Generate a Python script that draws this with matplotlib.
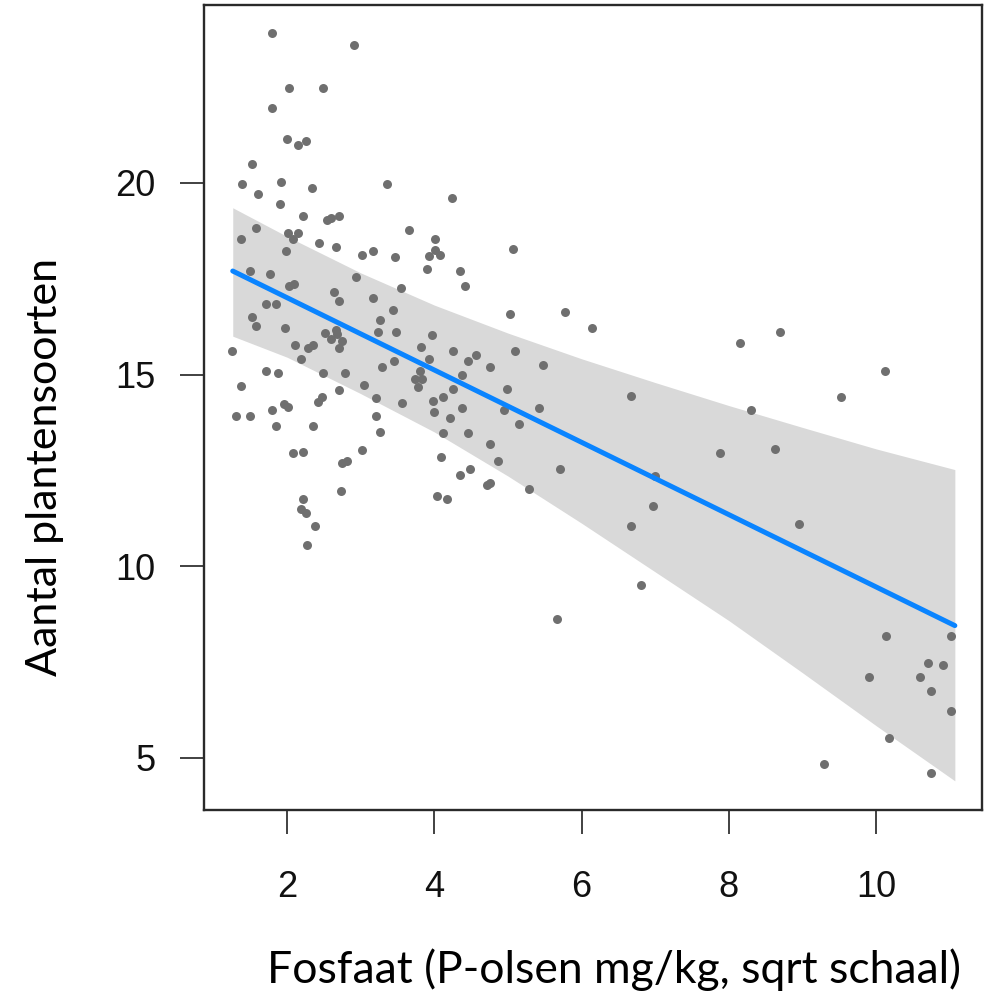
import numpy as np
import matplotlib
matplotlib.use('Agg')
import matplotlib.pyplot as plt

# scatter points (sqrt P-olsen, species count)
fosfaat = [1.79, 2.91, 2.03, 2.49, 1.79, 2.00, 2.14, 2.25, 1.52, 1.39, 1.92, 1.60, 2.33, 3.36,
           1.90, 2.22, 2.54, 2.59, 2.70, 1.58, 2.01, 2.14, 2.08, 1.37, 2.43, 2.66, 3.02, 3.17,
           3.47, 1.98, 1.50, 1.76, 2.93,
           2.03, 2.09, 2.64, 2.71, 3.17, 1.71, 1.85, 3.44, 1.52, 1.58, 1.97, 3.26, 3.23, 3.48,
           2.51, 2.60, 2.66, 2.68, 2.75, 2.71, 2.11, 2.28, 2.35, 1.25, 2.19, 3.45, 3.29, 1.71,
           1.87, 2.49, 2.78, 1.37, 3.04, 2.70, 2.47, 2.42, 3.20, 1.95, 2.01, 1.31, 1.49, 1.79,
           3.20, 1.85, 2.35, 3.26, 2.08, 2.22, 3.02, 2.75, 2.81, 2.73, 2.22, 2.19, 2.26, 2.38,
           2.27,
           4.24, 3.66, 4.01, 4.01, 4.07, 3.93, 5.07, 3.90, 4.35, 4.41, 3.55, 5.02, 5.77, 3.97,
           3.82, 4.25, 3.93, 4.46, 4.57, 5.10, 4.76, 5.47, 3.80, 3.74, 3.83, 3.77, 4.38, 4.25,
           4.12, 3.98, 4.99, 3.56, 4.00, 4.38, 4.94, 5.42, 4.21, 5.15,
           4.11, 4.46, 4.76, 4.09, 4.86, 5.71, 4.48, 4.35, 4.72, 4.76, 5.29, 4.04, 4.17, 5.66,
           6.14, 8.15, 8.70, 6.67, 8.30, 8.63, 7.88, 7.00, 6.97, 6.67, 6.80,
           10.12, 9.53, 8.95, 10.14, 11.02, 10.71, 10.91, 9.91, 10.60, 10.74, 11.02, 10.17,
           9.29, 10.74]
soorten = [23.9, 23.6, 22.47, 22.47, 21.96, 21.15, 20.99, 21.1, 20.48, 19.97, 20.02, 19.7, 19.86, 19.97,
           19.46, 19.14, 19.03, 19.08, 19.14, 18.83, 18.69, 18.70, 18.53, 18.53, 18.43, 18.32, 18.11, 18.23,
           18.07, 18.23, 17.71, 17.61, 17.54,
           17.32, 17.36, 17.15, 16.93, 16.99, 16.84, 16.84, 16.69, 16.49, 16.27, 16.22, 16.43, 16.12, 16.12,
           16.08, 15.92, 16.16, 16.05, 15.88, 15.69, 15.77, 15.70, 15.77, 15.62, 15.40, 15.36, 15.19, 15.10,
           15.05, 15.05, 15.05, 14.69, 14.73, 14.60, 14.42, 14.28, 14.39, 14.23, 14.16, 13.92, 13.92, 14.08,
           13.92, 13.66, 13.66, 13.50, 12.95, 12.99, 13.03, 12.69, 12.74, 11.97, 11.76, 11.50, 11.40, 11.05,
           10.55,
           19.60, 18.78, 18.53, 18.24, 18.13, 18.08, 18.28, 17.76, 17.71, 17.30, 17.25, 16.59, 16.63, 16.03,
           15.72, 15.61, 15.40, 15.35, 15.51, 15.61, 15.19, 15.24, 15.09, 14.89, 14.89, 14.68, 15.0, 14.63,
           14.42, 14.32, 14.63, 14.27, 14.03, 14.13, 14.08, 14.13, 13.86, 13.71,
           13.47, 13.47, 13.20, 12.84, 12.74, 12.53, 12.53, 12.37, 12.11, 12.18, 12.02, 11.82, 11.76, 8.63,
           16.22, 15.82, 16.12, 14.44, 14.07, 13.05, 12.95, 12.34, 11.56, 11.05, 9.52,
           15.10, 14.42, 11.10, 8.18, 8.18, 7.47, 7.41, 7.10, 7.10, 6.75, 6.22, 5.51,
           4.84, 4.60]

# fitted line and its confidence band
fit_x = [1.26, 11.07]
fit_y = [17.70, 8.45]
band_x = [1.26, 2, 3, 4, 5, 6, 7, 8, 9, 10, 11.07]
band_lo = [16.00, 15.45, 14.50, 13.50, 12.35, 11.12, 9.85, 8.58, 7.22, 5.84, 4.40]
band_hi = [19.35, 18.60, 17.65, 16.81, 16.08, 15.41, 14.79, 14.19, 13.62, 13.06, 12.52]

xticks = [2, 4, 6, 8, 10]
yticks = [5, 10, 15, 20]

fig = plt.figure(figsize=(9.9, 9.98), dpi=100)
ax = fig.add_axes([0.2061, 0.1884, 0.7859, 0.8066])

ax.fill_between(band_x, band_lo, band_hi, color='#d9d9d9', lw=0, zorder=1)
ax.scatter(fosfaat, soorten, s=42, color='#6f6f6f', lw=0, zorder=2)
ax.plot(fit_x, fit_y, color='#0a84ff', lw=3.6, solid_capstyle='round', zorder=3)

ax.set_xlim(0.87, 11.44)
ax.set_ylim(3.64, 24.64)
ax.set_xticks(xticks)
ax.set_yticks(yticks)
ax.set_xticklabels([str(t) for t in xticks], fontsize=26, family='Liberation Sans', color='#111111')
ax.set_yticklabels([str(t) for t in yticks], fontsize=26, family='Liberation Sans', color='#111111')
ax.tick_params(axis='x', length=17, width=1.3, color='#333333', pad=26)
ax.tick_params(axis='y', length=17, width=1.3, color='#333333', pad=18)
for sp in ax.spines.values():
    sp.set_linewidth(1.7)
    sp.set_color('#2a2a2a')

fig.text(0.045, 0.532, 'Aantal plantensoorten', rotation=90, ha='center', va='center',
         fontsize=31, family='Lato', color='black')
fig.text(0.62, 0.028, 'Fosfaat (P-olsen mg/kg, sqrt schaal)', ha='center', va='center',
         fontsize=32, family='Lato', color='black')

plt.savefig('out.png', dpi=100)
